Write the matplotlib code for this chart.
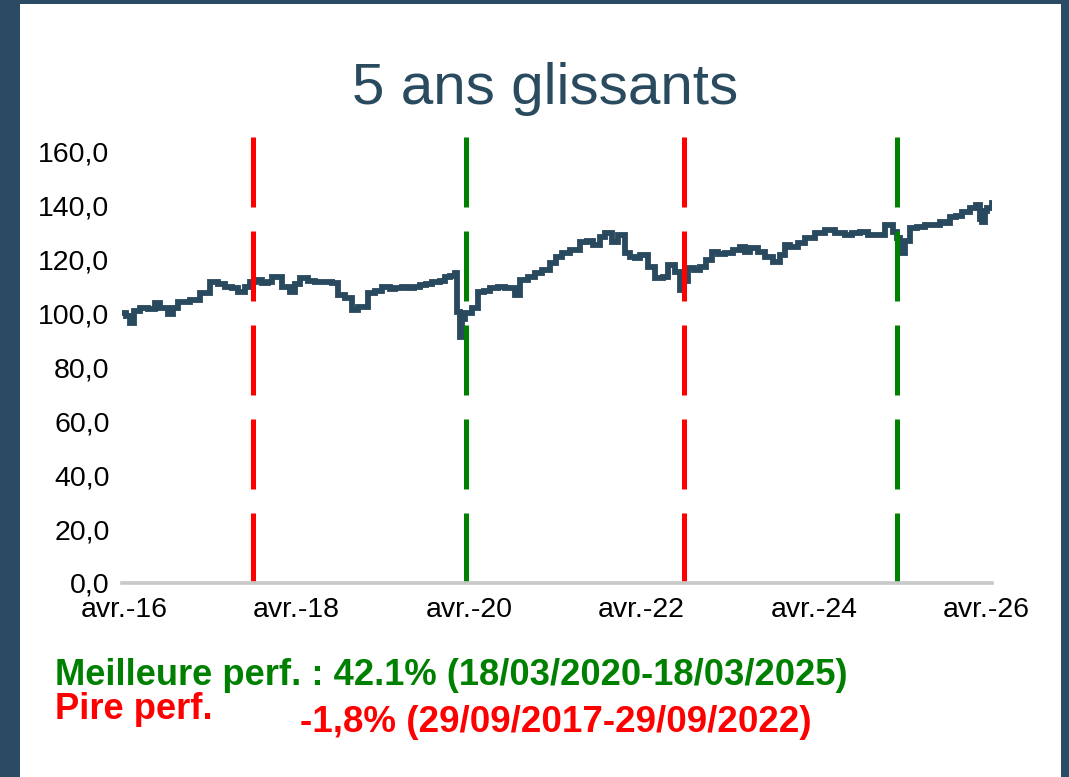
import numpy as np
import pandas as pd
import matplotlib
matplotlib.use("Agg")
import matplotlib.pyplot as plt
from matplotlib.patches import Rectangle
from matplotlib.transforms import Bbox, TransformedBbox

plt.rcParams['font.family'] = ['Liberation Sans', 'DejaVu Sans']

# valeur liquidative base 100
dates = [
    "2016-03-24", "2016-04-10", "2016-04-27", "2016-05-14", "2016-06-08", "2016-07-12",
    "2016-08-11", "2016-09-01", "2016-10-05", "2016-10-26", "2016-11-16", "2017-01-06",
    "2017-02-17", "2017-04-01", "2017-05-04", "2017-06-03", "2017-07-03", "2017-07-28",
    "2017-08-27", "2017-09-17", "2017-10-12", "2017-11-07", "2017-12-02", "2017-12-19",
    "2018-01-13", "2018-01-30", "2018-03-05", "2018-03-26", "2018-04-17", "2018-05-21",
    "2018-06-19", "2018-08-01", "2018-08-30", "2018-09-25", "2018-10-24", "2018-11-23",
    "2018-12-18", "2019-01-30", "2019-02-28", "2019-03-30", "2019-05-03", "2019-05-24",
    "2019-06-23", "2019-07-18", "2019-08-12", "2019-09-07", "2019-10-02", "2019-10-28",
    "2019-11-30", "2019-12-22", "2020-01-12", "2020-02-02", "2020-02-10", "2020-02-23",
    "2020-03-03", "2020-03-15", "2020-04-14", "2020-05-09", "2020-06-04", "2020-06-29",
    "2020-08-02", "2020-09-01", "2020-09-30", "2020-10-13", "2020-11-03", "2020-12-07",
    "2021-01-06", "2021-02-04", "2021-03-10", "2021-04-05", "2021-04-30", "2021-06-03",
    "2021-07-15", "2021-08-14", "2021-09-08", "2021-10-08", "2021-10-29", "2021-11-28",
    "2021-12-23", "2022-01-22", "2022-02-12", "2022-03-05", "2022-03-26", "2022-04-29",
    "2022-05-29", "2022-07-02", "2022-07-23", "2022-08-21", "2022-09-12", "2022-09-29",
    "2022-10-15", "2022-11-10", "2022-12-05", "2022-12-31", "2023-01-25", "2023-02-19",
    "2023-03-21", "2023-04-24", "2023-05-24", "2023-06-14", "2023-07-05", "2023-08-08",
    "2023-09-06", "2023-10-10", "2023-11-09", "2023-11-30", "2023-12-21", "2024-01-24",
    "2024-02-23", "2024-04-05", "2024-05-18", "2024-06-29", "2024-08-10", "2024-09-09",
    "2024-10-13", "2024-11-16", "2024-12-15", "2025-01-27", "2025-03-01", "2025-03-18",
    "2025-03-31", "2025-04-21", "2025-05-12", "2025-06-11", "2025-07-15", "2025-08-18",
    "2025-09-16", "2025-10-08", "2025-10-29", "2025-11-23", "2025-12-19", "2026-01-21",
    "2026-02-16", "2026-03-05", "2026-03-13", "2026-03-26", "2026-04-03", "2026-04-25",
]
values = [
    100.2, 99.0, 96.5, 101.0, 102.0, 101.5,
    104.0, 102.0, 100.0, 102.0, 104.3, 105.0,
    107.6, 111.7, 111.0, 110.0, 109.5, 108.0,
    110.0, 111.7, 112.5, 111.3, 111.8, 113.6,
    113.6, 110.0, 108.0, 111.0, 113.0, 112.0,
    111.7, 111.7, 111.3, 107.0, 105.8, 101.3,
    102.4, 107.6, 108.5, 110.0, 109.0, 109.5,
    110.0, 109.5, 110.0, 110.6, 111.0, 111.7,
    112.0, 113.6, 114.0, 115.0, 100.6, 91.3,
    98.0, 100.2, 102.0, 108.0, 108.5, 109.5,
    109.8, 109.5, 109.5, 107.0, 112.5, 113.5,
    115.0, 116.0, 118.8, 121.0, 122.5, 123.6,
    126.6, 127.0, 125.5, 128.4, 129.9, 126.6,
    129.2, 122.5, 121.0, 120.6, 121.8, 117.3,
    113.2, 113.6, 118.0, 115.4, 108.8, 112.0,
    116.9, 116.0, 117.3, 120.0, 122.9, 122.0,
    122.5, 123.5, 124.7, 123.0, 124.3, 123.0,
    121.0, 119.2, 121.8, 125.5, 124.7, 126.0,
    128.0, 129.9, 131.0, 129.9, 129.2, 130.0,
    130.3, 129.0, 129.2, 132.9, 130.3, 128.0,
    122.5, 127.0, 131.8, 132.0, 132.9, 133.0,
    134.0, 133.5, 135.8, 136.0, 137.7, 139.2,
    140.3, 135.0, 134.0, 138.0, 139.2, 141.0,
]

best_dates = ["2020-03-18", "2025-03-18"]
worst_dates = ["2017-09-29", "2022-09-29"]
yticks = [0, 20, 40, 60, 80, 100, 120, 140, 160]
xtick_years = [2016, 2018, 2020, 2022, 2024, 2026]

title = "5 ans glissants"
best_txt = "Meilleure perf. : 42.1% (18/03/2020-18/03/2025)"
worst_lbl = "Pire perf."
worst_txt = "-1,8% (29/09/2017-29/09/2022)"

W, H = 1069, 777
fig = plt.figure(figsize=(W / 100, H / 100), dpi=100)
fig.patch.set_facecolor('#2a4b63')
fig.patches.append(Rectangle((20 / W, 0), 1041 / W, 773 / H, transform=fig.transFigure,
                             facecolor='white', edgecolor='none', zorder=-5))

ax = fig.add_axes([122 / W, 1 - 583 / H, 870 / W, 446 / H])
ax.set_facecolor('none')

x = pd.to_datetime(dates)
ax.plot(x, values, color='#29495e', lw=4.2, drawstyle='steps-post',
        solid_joinstyle='miter', zorder=2)

top = 165.5
for d in worst_dates:
    ax.plot([pd.Timestamp(d)] * 2, [0, top], color='#ff0000', lw=3.6,
            dashes=(14.0, 4.8), zorder=3, dash_capstyle='butt')
for d in best_dates:
    ax.plot([pd.Timestamp(d)] * 2, [0, top], color='#008000', lw=3.6,
            dashes=(14.0, 4.8), zorder=3, dash_capstyle='butt')

ax.set_ylim(0, top)
ax.set_xlim(x[0], x[-1])
ax.set_yticks(yticks)
ax.set_yticklabels([f"{v:.1f}".replace('.', ',') for v in yticks])
ax.set_xticks([pd.Timestamp(f"{y}-04-01") for y in xtick_years])
ax.set_xticklabels([f"avr.-{y % 100:02d}" for y in xtick_years])

for s in ['top', 'right', 'left']:
    ax.spines[s].set_visible(False)
ax.spines['bottom'].set_color('#c8c8c8')
ax.spines['bottom'].set_linewidth(2.6)
ax.spines['bottom'].set_zorder(4)
ax.tick_params(axis='both', length=0, labelsize=20.5, colors='black')
ax.tick_params(axis='y', pad=9)
ax.tick_params(axis='x', pad=10)

fig.canvas.draw()
last = ax.get_xticklabels()[-1]
last.set_clip_box(TransformedBbox(Bbox([[0, 0], [1038 / W, 1]]), fig.transFigure))
last.set_clip_on(True)

fig.text(545 / W, 1 - 89 / H, title, ha='center', va='center', fontsize=42,
         color='#2a4b5f')
fig.text(55 / W, 1 - 685 / H, best_txt, ha='left', va='baseline', fontsize=26.2,
         fontweight='bold', color='#008000')
fig.text(55 / W, 1 - 719 / H, worst_lbl, ha='left', va='baseline', fontsize=26.2,
         fontweight='bold', color='#ff0000')
fig.text(300 / W, 1 - 732 / H, worst_txt, ha='left', va='baseline', fontsize=26.5,
         fontweight='bold', color='#ff0000')

fig.savefig('out.png', dpi=100, facecolor=fig.get_facecolor())
